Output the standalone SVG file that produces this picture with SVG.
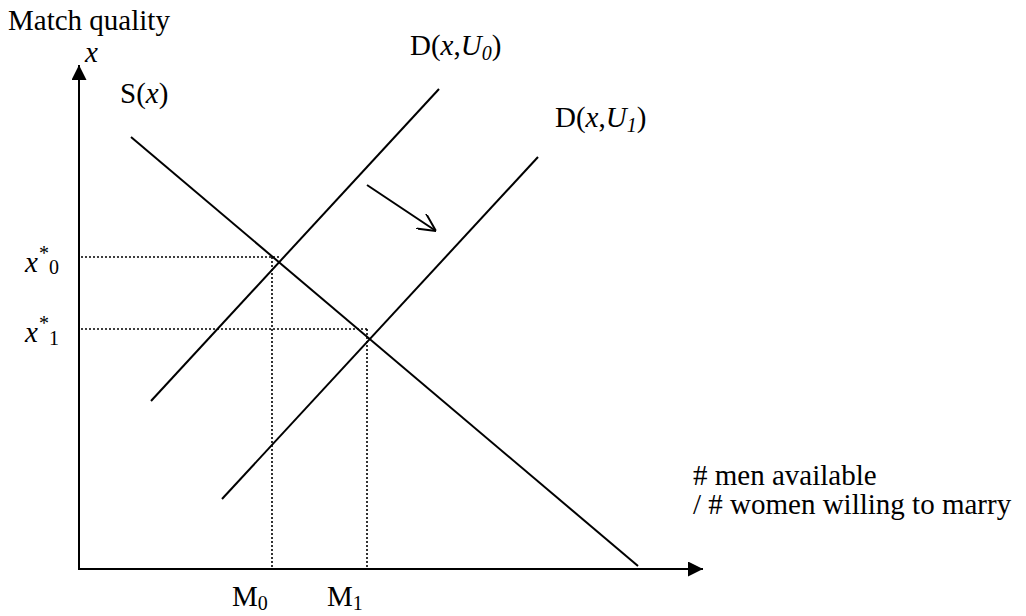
<svg xmlns="http://www.w3.org/2000/svg" width="1026" height="616" viewBox="0 0 1026 616">
<style>
.t{font-family:'Liberation Serif','Times New Roman','DejaVu Serif',serif;font-size:29px;fill:#000}
.it{font-style:italic}
.sm{font-size:20px}
.ln{stroke:#000;stroke-width:2;fill:none}
.dot{stroke:#000;stroke-width:1.6;stroke-dasharray:2 2;fill:none}
</style>
<defs>
<marker id="tri" viewBox="0 0 10 10" refX="10" refY="5" markerWidth="16" markerHeight="15" markerUnits="userSpaceOnUse" orient="auto"><path d="M0,0 L10,5 L0,10 Z" fill="#000"/></marker>
<marker id="open" viewBox="0 0 10 10" refX="10" refY="5" markerWidth="18" markerHeight="18" markerUnits="userSpaceOnUse" orient="auto"><path d="M0,0 L10,5 L0,10" fill="none" stroke="#000" stroke-width="1.1"/></marker>
</defs>
<g id="axes">
<line class="ln" x1="79" y1="570" x2="79" y2="65" marker-end="url(#tri)"/>
<line class="ln" x1="78" y1="569" x2="703" y2="569" marker-end="url(#tri)"/>
</g>
<g id="connectors">
<line class="ln" x1="131" y1="137" x2="638" y2="566"/>
<line class="ln" x1="151" y1="401" x2="439" y2="89"/>
<line class="ln" x1="222" y1="499" x2="538" y2="157"/>
<line class="dot" x1="81" y1="257" x2="279" y2="257"/>
<line class="dot" x1="272" y1="257" x2="272" y2="568"/>
<line class="dot" x1="81" y1="329" x2="369" y2="329"/>
<line class="dot" x1="367" y1="329" x2="367" y2="568"/>
<line class="ln" x1="367" y1="185" x2="436" y2="231" marker-end="url(#open)"/>
</g>
<g id="labels" class="t">
<text class="t" x="8" y="30">Match quality</text>
<text class="t it" x="85" y="62">x</text>
<text class="t" x="120" y="103">S(<tspan class="it">x</tspan>)</text>
<text class="t" x="410" y="55">D(<tspan class="it">x</tspan>,<tspan class="it">U</tspan><tspan class="it sm" dy="5">0</tspan><tspan dy="-5">)</tspan></text>
<text class="t" x="555" y="127">D(<tspan class="it">x</tspan>,<tspan class="it">U</tspan><tspan class="it sm" dy="5">1</tspan><tspan dy="-5">)</tspan></text>
<text class="t" x="25" y="272"><tspan class="it">x</tspan><tspan class="sm" dx="1" dy="-12">*</tspan><tspan class="sm" dx="0" dy="14">0</tspan></text>
<text class="t" x="25" y="342"><tspan class="it">x</tspan><tspan class="sm" dx="1" dy="-12">*</tspan><tspan class="sm" dx="0" dy="15">1</tspan></text>
<text class="t" x="693" y="485"># men available</text>
<text class="t" x="693" y="514">/ # women willing to marry</text>
<text class="t" x="232" y="606">M<tspan class="sm" dy="4">0</tspan></text>
<text class="t" x="327" y="606">M<tspan class="sm" dy="4">1</tspan></text>
</g>
</svg>
